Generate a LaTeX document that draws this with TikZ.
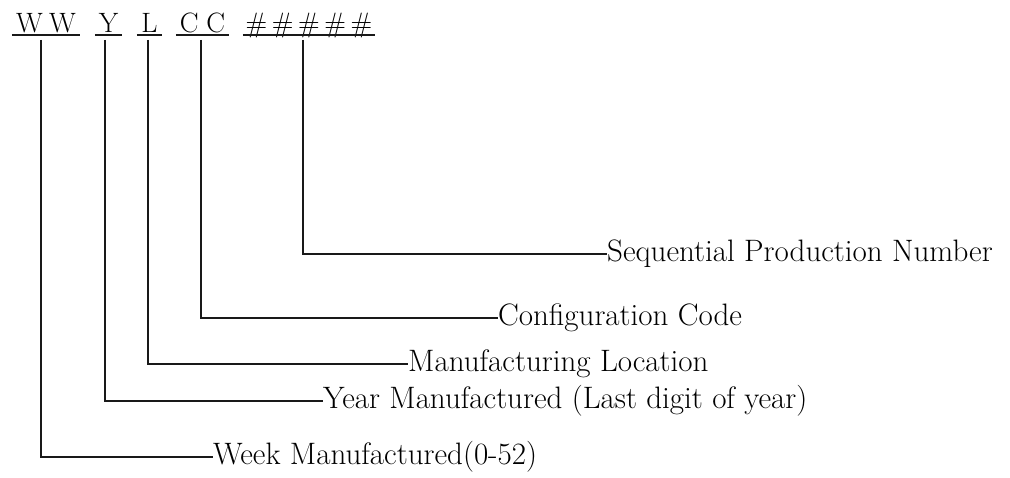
\documentclass[tikz,border=0pt]{standalone}
\begin{document}
\begin{tikzpicture}[x=1pt,y=-1pt,
	lbl/.style={anchor=west,inner sep=0pt,font=\fontsize{31}{37}\selectfont},
	grp/.style={anchor=base,inner sep=0pt,font=\fontsize{28}{33}\selectfont},
	wire/.style={line width=1.8pt,black!90}]
	\useasboundingbox (0,0) rectangle (1010,478);
	% code groups
	\node[grp,minimum width=68] (ww) at (46,33) {W\:W};
	\node[grp,minimum width=27] (yy) at (108.5,33) {Y};
	\node[grp,minimum width=25] (ll) at (149.5,33) {L};
	\node[grp,minimum width=53] (cc) at (202.5,33) {C\;C};
	\node[grp,minimum width=132] (num) at (309,33) {\#\,\#\,\#\,\#\,\#};
	\foreach \g in {ww,yy,ll,cc,num}
		\draw[line width=1.1pt,black!90] ([yshift=-2pt]\g.base west) -- ([yshift=-2pt]\g.base east);
	% labels
	\node[lbl] (seqno) at (607,254) {Sequential Production Number};
	\node[lbl] (config) at (498,318) {Configuration Code};
	\node[lbl] (loc) at (408,364) {Manufacturing Location};
	\node[lbl] (year) at (323,401) {Year Manufactured (Last digit of year)};
	\node[lbl] (week) at (213,457) {Week Manufactured(0-52)};
	% leaders
	\draw[wire] ([xshift=-6pt,yshift=-7pt]num.base) |- (seqno.west);
	\draw[wire] ([xshift=-1.5pt,yshift=-7pt]cc.base) |- (config.west);
	\draw[wire] ([xshift=-1.5pt,yshift=-7pt]ll.base) |- (loc.west);
	\draw[wire] ([xshift=-3.5pt,yshift=-7pt]yy.base) |- (year.west);
	\draw[wire] ([xshift=-5pt,yshift=-7pt]ww.base) |- (week.west);
\end{tikzpicture}
\end{document}
